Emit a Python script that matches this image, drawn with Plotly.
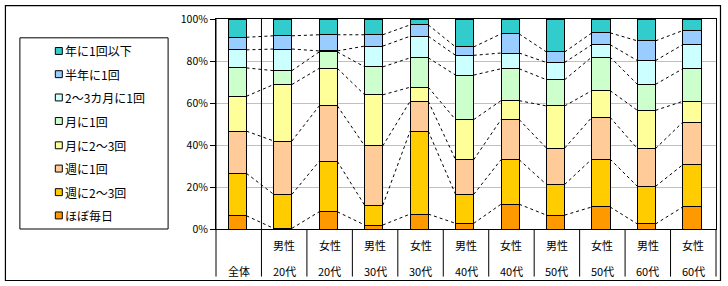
import plotly.graph_objects as go

genders = ["", "男性", "女性", "男性", "女性", "男性", "女性", "男性", "女性", "男性", "女性"]
ages = ["全体", "20代", "20代", "30代", "30代", "40代", "40代", "50代", "50代", "60代", "60代"]

series_names = ["ほぼ毎日", "週に2～3回", "週に1回", "月に2～3回", "月に1回",
                "2～3カ月に1回", "半年に1回", "年に1回以下"]
colors = ["#FF9900", "#FFCC00", "#FFCC99", "#FFFF99", "#CCFFCC",
          "#CCFFFF", "#99CCFF", "#33CCCC"]

hobo_mainichi = [6.3, 0.3, 8.2, 1.9, 7.1, 2.7, 11.8, 6.6, 10.5, 2.4, 10.5]
shu_2_3 = [20.2, 16.2, 24.0, 9.4, 39.5, 13.8, 21.2, 14.6, 22.8, 17.9, 20.1]
shu_1 = [20.1, 25.4, 26.4, 28.3, 14.2, 16.5, 19.1, 17.3, 19.9, 18.0, 20.3]
tsuki_2_3 = [16.6, 26.9, 17.9, 24.3, 6.7, 19.1, 9.0, 20.1, 12.7, 18.2, 9.9]
tsuki_1 = [13.5, 6.6, 7.8, 13.3, 14.0, 21.2, 15.2, 12.5, 16.0, 12.4, 15.5]
kagetsu_2_3 = [8.6, 10.3, 0.5, 9.9, 10.3, 9.4, 7.5, 8.2, 5.9, 11.3, 11.5]
hantoshi_1 = [6.0, 6.3, 7.7, 5.4, 5.4, 4.0, 9.1, 5.0, 5.6, 9.4, 6.7]
nen_1_ika = [8.7, 8.0, 7.5, 7.5, 2.8, 13.3, 7.1, 15.7, 6.6, 10.4, 5.5]

series_values = [hobo_mainichi, shu_2_3, shu_1, tsuki_2_3, tsuki_1,
                 kagetsu_2_3, hantoshi_1, nen_1_ika]

y_ticks = [0, 20, 40, 60, 80, 100]
y_tick_labels = ["0%", "20%", "40%", "60%", "80%", "100%"]

FONT = "Noto Sans CJK JP"
W, H = 728, 286
ML, MR, MT, MB = 216, 11, 17, 57
PW = W - ML - MR
PH = H - MT - MB
BAR_W = 0.4
SHIFT = -0.03
n = len(ages)


def px(xpix):
    return (xpix - ML) / PW


def py(ypix):
    return (H - MB - ypix) / PH


fig = go.Figure()
x_idx = list(range(n))
for name, vals, col in zip(series_names, series_values, colors):
    fig.add_trace(go.Bar(
        x=x_idx, y=vals, name=name, width=BAR_W, offset=-BAR_W / 2 + SHIFT,
        marker=dict(color=col, line=dict(color="black", width=1)),
        showlegend=False, hoverinfo="name+y",
    ))

# series lines (dashed connectors between bar tops)
cum = [0.0] * n
for k in range(len(series_values) - 1):
    cum = [c + v for c, v in zip(cum, series_values[k])]
    xs, ys = [], []
    for i in range(n - 1):
        xs += [i + BAR_W / 2 + SHIFT, i + 1 - BAR_W / 2 + SHIFT, None]
        ys += [cum[i], cum[i + 1], None]
    fig.add_trace(go.Scatter(x=xs, y=ys, mode="lines", showlegend=False,
                             line=dict(color="black", width=1, dash="3px,3px"),
                             hoverinfo="skip"))

shapes = []
annotations = []

# outer frame
shapes.append(dict(type="rect", xref="paper", yref="paper",
                   x0=px(5), x1=px(721.5), y0=py(281), y1=py(3.5),
                   line=dict(color="black", width=1.2), layer="below"))

# category separators (table below axis)
for i in range(n + 1):
    xp = i / n
    top = py(MT) if i in (0, 1) else 0
    shapes.append(dict(type="line", xref="paper", yref="paper",
                       x0=xp, x1=xp, y0=py(277), y1=top,
                       line=dict(color="black", width=1)))

# category labels
for i in range(n):
    if genders[i]:
        annotations.append(dict(x=i, y=py(245), xref="x", yref="paper",
                                text=genders[i], showarrow=False,
                                xanchor="center", yanchor="middle",
                                font=dict(family=FONT, size=11, color="black")))
    annotations.append(dict(x=i, y=py(271.5), xref="x", yref="paper",
                            text=ages[i], showarrow=False,
                            xanchor="center", yanchor="middle",
                            font=dict(family=FONT, size=11, color="black")))

# manual legend
shapes.append(dict(type="rect", xref="paper", yref="paper",
                   x0=px(19.5), x1=px(168), y0=py(229), y1=py(36),
                   line=dict(color="black", width=1), fillcolor="white"))
item_y = [49.3, 72.7, 96.2, 120, 144.5, 168, 191.8, 215.3]
for j, k in enumerate(reversed(range(len(series_names)))):
    cy = item_y[j]
    shapes.append(dict(type="rect", xref="paper", yref="paper",
                       x0=px(55), x1=px(62), y0=py(cy + 3.5), y1=py(cy - 3.5),
                       line=dict(color="black", width=1), fillcolor=colors[k]))
    annotations.append(dict(x=px(63), y=py(cy), xref="paper", yref="paper",
                            text=series_names[k], showarrow=False,
                            xanchor="left", yanchor="middle",
                            font=dict(family=FONT, size=12, color="black")))

fig.update_layout(
    width=W, height=H,
    margin=dict(l=ML, r=MR, t=MT, b=MB, pad=0),
    barmode="stack",
    paper_bgcolor="white", plot_bgcolor="white",
    showlegend=False,
    shapes=shapes, annotations=annotations,
    font=dict(family=FONT, size=11, color="black"),
)
fig.update_xaxes(range=[-0.5, n - 0.5], showticklabels=False, ticks="",
                 showgrid=False, zeroline=False, showline=True,
                 linecolor="black", linewidth=1, mirror=True, fixedrange=True)
fig.update_yaxes(range=[0, 100], tickmode="array", tickvals=y_ticks,
                 ticktext=y_tick_labels,
                 ticks="outside", ticklen=5, tickcolor="black",
                 showgrid=True, gridcolor="#C0C0C0", gridwidth=1,
                 zeroline=False, showline=True, linecolor="black", linewidth=1,
                 mirror=True, tickfont=dict(family=FONT, size=10.5, color="black"),
                 fixedrange=True)

fig.write_html("out.html", config={"displayModeBar": False},
               post_script="document.body.style.margin='0';")
